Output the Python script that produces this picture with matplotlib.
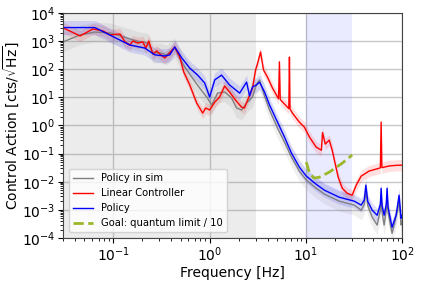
import numpy as np
import matplotlib
matplotlib.use('Agg')
import matplotlib.pyplot as plt

# 频率 [Hz] 与 log10(控制量) —— 从参考图读取
sim_freq = [0.030, 0.045, 0.064, 0.092, 0.138, 0.188, 0.228, 0.257, 0.303, 0.358, 0.404, 0.434,
            0.489, 0.551, 0.651, 0.788, 0.931, 1.05, 1.21, 1.43, 1.69, 1.90, 2.15, 2.42, 2.79,
            3.07, 3.30, 3.72, 4.19, 5.07, 5.99, 7.08, 8.56, 10.1, 12.8, 15.6, 22.2, 31.8, 37.6,
            40.5, 42.0, 44.0, 48.9, 55.1, 59.5, 60.6, 62.0, 65.1, 68.5, 69.9, 71.5, 78.7, 90.0,
            93.1, 97.7, 100.0]
sim_log = [2.97, 3.22, 3.32, 3.29, 3.11, 2.97, 2.93, 2.58, 2.58, 2.51, 2.68, 2.75,
           2.40, 2.08, 1.72, 1.33, 1.01, 0.73, 1.15, 1.19, 0.98, 0.62, 0.55, 0.80, 1.01,
           1.47, 1.62, 1.05, 0.55, -0.09, -0.59, -1.12, -1.62, -1.94, -2.23, -2.44, -2.69, -2.83, -3.01,
           -2.80, -2.30, -2.85, -3.26, -3.54, -3.00, -2.48, -3.10, -3.54, -3.00, -2.48, -3.10, -3.83, -3.00,
           -2.65, -3.54, -3.40]

lin_freq = [0.030, 0.045, 0.061, 0.078, 0.092, 0.117, 0.132, 0.148, 0.159, 0.179, 0.202, 0.217,
            0.233, 0.257, 0.282, 0.303, 0.342, 0.385, 0.434, 0.489, 0.538, 0.621, 0.733, 0.846,
            0.909, 1.0, 1.13, 1.27, 1.43, 1.61, 1.86, 2.15, 2.30, 2.48, 2.79, 3.00, 3.14, 3.38,
            3.63, 3.99, 4.50, 5.20, 5.31, 5.42, 6.28, 6.65, 6.75, 6.85, 7.25, 8.56, 9.65, 10.9,
            12.8, 14.5, 14.9, 15.9, 17.5, 18.8, 20.2, 21.7, 23.9, 26.9, 30.3, 33.4, 37.6, 45.5,
            57.8, 59.5, 60.6, 61.7, 73.3, 85.0, 100.0]
lin_log = [3.47, 3.18, 3.43, 3.36, 3.22, 3.25, 2.97, 2.86, 3.00, 2.93, 2.97, 2.75,
           3.00, 2.54, 2.65, 2.54, 2.40, 2.58, 2.79, 2.43, 1.90, 1.44, 0.80, 0.44,
           0.62, 0.55, 0.83, 1.01, 1.40, 1.19, 0.90, 0.65, 0.62, 0.90, 1.33, 1.97, 2.19, 2.61,
           1.97, 1.72, 1.33, 0.95, 2.26, 0.92, 0.69, 0.60, 2.43, 0.58, 0.44, 0.12, -0.06, -0.41,
           -0.77, -0.88, -0.25, -0.66, -0.52, -0.88, -1.37, -1.84, -2.23, -2.41, -2.48, -2.12, -1.80, -1.62,
           -1.52, -1.50, 0.12, -1.50, -1.44, -1.42, -1.41]

pol_freq = [0.030, 0.064, 0.096, 0.148, 0.212, 0.269, 0.342, 0.385, 0.434, 0.513, 0.621, 0.751,
            0.888, 1.0, 1.13, 1.33, 1.61, 2.05, 2.42, 2.60, 2.79, 3.07, 3.30, 3.72, 4.19, 5.07,
            5.99, 7.08, 8.56, 10.1, 12.8, 15.6, 22.2, 31.8, 37.6, 40.5, 42.0, 44.0, 48.9, 55.1,
            59.5, 60.6, 62.0, 65.1, 68.5, 69.9, 71.5, 78.7, 86.7, 93.1, 97.7, 100.0]
pol_log = [3.48, 3.48, 3.18, 2.86, 2.75, 2.51, 2.47, 2.51, 2.79, 2.40, 2.04, 1.79,
           1.51, 1.01, 1.62, 1.79, 1.44, 1.15, 1.54, 1.05, 1.37, 1.44, 1.54, 1.19, 0.73, 0.12,
           -0.41, -0.98, -1.48, -1.80, -2.09, -2.30, -2.55, -2.69, -2.83, -2.65, -2.12, -2.70, -3.01, -3.19,
           -2.80, -2.23, -2.85, -3.19, -2.80, -2.23, -2.90, -3.62, -3.19, -2.48, -3.30, -3.20]

goal_freq = [10.1, 10.9, 12.2, 13.8, 17.5, 23.9, 30.3]
goal_log = [-1.30, -1.69, -1.87, -1.84, -1.66, -1.34, -1.05]

# 阴影带半宽（十进制数量级）
sim_band = 0.35
lin_band = 0.2
pol_band = 0.25

plt.figure(figsize=(4.21, 2.81), dpi=100)
ax = plt.axes([0.150, 0.153, 0.805, 0.801])

ax.axvspan(0.03, 3, color='gray', alpha=0.15, lw=0)
ax.axvspan(10, 30, color='blue', alpha=0.08, lw=0)

series = [
    (sim_freq, sim_log, sim_band, 'gray', 'Policy in sim'),
    (lin_freq, lin_log, lin_band, 'red', 'Linear Controller'),
    (pol_freq, pol_log, pol_band, 'blue', 'Policy'),
]
for f, lg, band, c, lab in series:
    f = np.array(f)
    v = 10 ** np.array(lg)
    ax.fill_between(f, v / 10 ** band, v * 10 ** band, color=c, alpha=0.12, lw=0)
    ax.plot(f, v, color=c, lw=1, label=lab)

ax.plot(goal_freq, 10 ** np.array(goal_log), '--', color='#9ab82a', lw=2,
        label='Goal: quantum limit / 10')

ax.set_xscale('log')
ax.set_yscale('log')
ax.set_xlim(0.03, 100)
ax.set_ylim(1e-4, 1e4)
ax.set_yticks([10.0 ** k for k in range(-4, 5)])
ax.grid(True, which='major', color='#c8c8c8', lw=1)
ax.set_axisbelow(True)
ax.tick_params(labelsize=10, pad=2)
for s in ax.spines.values():
    s.set_color('#444444')

ax.set_xlabel('Frequency [Hz]', fontsize=10, labelpad=1)
ax.set_ylabel(r'Control Action [cts/$\sqrt{\mathrm{Hz}}$]', fontsize=10, labelpad=0)
ax.legend(loc='lower left', fontsize=7.2, framealpha=0.8, borderaxespad=0.6)

plt.savefig('out.png', dpi=100)
